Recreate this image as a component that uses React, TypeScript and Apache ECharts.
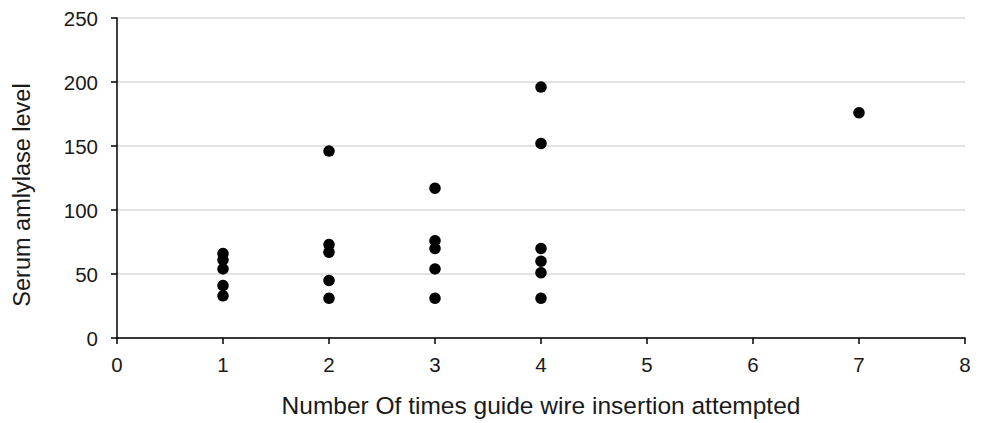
import React, { useEffect, useRef } from "react";
import * as echarts from "echarts";

const xAttempts = [1, 1, 1, 1, 1, 2, 2, 2, 2, 2, 3, 3, 3, 3, 3, 4, 4, 4, 4, 4, 4, 7];
const yAmylase = [66, 61, 54, 41, 33, 146, 73, 67, 45, 31, 117, 76, 70, 54, 31, 196, 152, 70, 60, 51, 31, 176];
const xTicks = [0, 1, 2, 3, 4, 5, 6, 7, 8];
const yTicks = [0, 50, 100, 150, 200, 250];
const xTitle = "Number Of times guide wire insertion attempted";
const yTitle = "Serum amlylase level";

export default function App() {
  const ref = useRef<HTMLDivElement>(null);
  useEffect(() => {
    const chart = echarts.init(ref.current!, null, { renderer: "svg" });
    const font = "'Liberation Sans', Arial, sans-serif";
    chart.setOption({
      animation: false,
      backgroundColor: "#ffffff",
      grid: { left: 117, right: 16, top: 18, bottom: 82.5 },
      xAxis: {
        type: "value",
        min: xTicks[0],
        max: xTicks[xTicks.length - 1],
        interval: 1,
        name: xTitle,
        nameLocation: "middle",
        nameGap: 55,
        nameTextStyle: { fontFamily: font, fontSize: 24.5, color: "#1a1a1a" },
        axisLine: { lineStyle: { color: "#000", width: 1.5 } },
        axisTick: { show: true, length: 6, lineStyle: { color: "#000", width: 1.5 } },
        axisLabel: { fontFamily: font, fontSize: 20.5, color: "#1a1a1a", margin: 16 },
        splitLine: { show: false },
      },
      yAxis: {
        type: "value",
        min: yTicks[0],
        max: yTicks[yTicks.length - 1],
        interval: 50,
        name: yTitle,
        nameLocation: "middle",
        nameGap: 83,
        nameTextStyle: { fontFamily: font, fontSize: 23.5, color: "#1a1a1a", padding: [0, 34, 0, 0] },
        axisLine: { show: true, lineStyle: { color: "#000", width: 1.5 } },
        axisTick: { show: true, length: 6, lineStyle: { color: "#000", width: 1.5 } },
        axisLabel: { fontFamily: font, fontSize: 20.5, color: "#1a1a1a", margin: 19 },
        splitLine: { show: true, lineStyle: { color: "#d9d9d9", width: 1.5 } },
      },
      series: [
        {
          type: "scatter",
          symbol: "circle",
          symbolSize: 11.5,
          itemStyle: { color: "#000", opacity: 1 },
          data: xAttempts.map((x, i) => [x, yAmylase[i]]),
        },
      ],
    });
    return () => chart.dispose();
  }, []);
  return <div ref={ref} style={{ width: 981, height: 423, position: "absolute", left: 0, top: 0 }} />;
}
